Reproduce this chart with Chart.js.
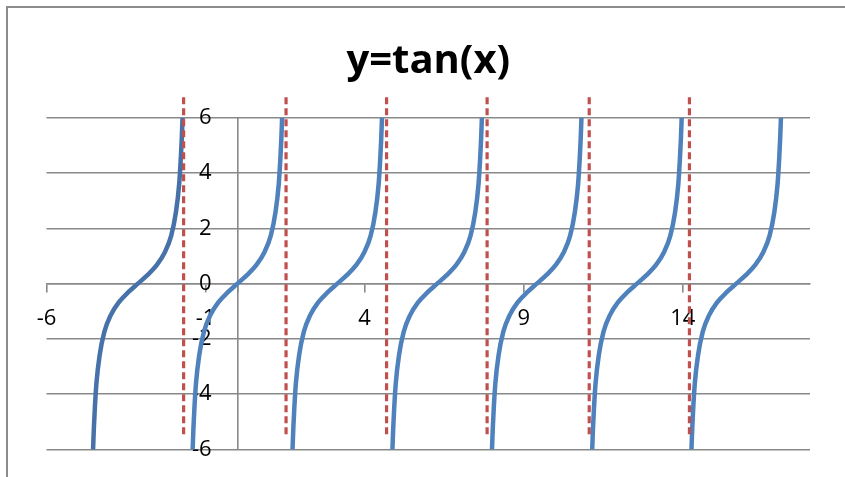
<!DOCTYPE html>
<html>
<head>
<meta charset="utf-8">
<script src="https://cdn.jsdelivr.net/npm/chart.js@4"></script>
<style>
  html, body { margin: 0; padding: 0; background: #fff; }
  #wrap { position: relative; width: 845px; height: 477px; }
  #frame { position: absolute; left: 6px; top: 6px; right: 0; bottom: 0; border-top: 2px solid #8c8c8c; border-left: 2px solid #8c8c8c; }
  canvas { position: absolute; left: 0; top: 0; }
</style>
</head>
<body>
<div id="wrap">
  <div id="frame"></div>
  <canvas id="tanChart" width="845" height="477"></canvas>
</div>
<script>
// date
const titlu = "y=tan(x)";
const xTicks = [-6, -1, 4, 9, 14];
const yTicks = [-6, -4, -2, 0, 2, 4, 6];

// centrele ramurilor (unde tan trece prin 0)
const centreRamuri = [-3.13, 0, 3.14, 6.28, 9.41, 12.56, 15.68];
// forma unei ramuri: distanta fata de centru si valoarea y
const ramuraDx = [-1.406, -1.38, -1.35, -1.3, -1.2, -1.05, -0.85, -0.6, -0.3, 0, 0.3, 0.6, 0.85, 1.05, 1.2, 1.3, 1.35, 1.38, 1.406];
const ramuraY = [-6, -5.2, -4.5, -3.6, -2.6, -1.74, -1.14, -0.68, -0.31, 0, 0.31, 0.68, 1.14, 1.74, 2.6, 3.6, 4.5, 5.2, 6];

// asimptotele (linii rosii punctate)
const asimptoteX = [-1.69, 1.53, 4.69, 7.85, 11.06, 14.21];
const asimptotaSus = 6.75;
const asimptotaJos = -5.6;

const datasets = [];

asimptoteX.forEach(a => {
  datasets.push({
    data: [{ x: a, y: asimptotaSus }, { x: a, y: asimptotaJos }],
    borderColor: "#C0504D",
    borderWidth: 3.2,
    borderDash: [7, 4],
    pointRadius: 0,
    showLine: true,
    clip: false,
    order: 0
  });
});

centreRamuri.forEach((c, i) => {
  datasets.push({
    data: ramuraDx.map((dx, k) => ({ x: c + dx, y: ramuraY[k] })),
    borderColor: i === 0 ? "#4671A9" : "#4F81BD",
    borderWidth: 4.5,
    pointRadius: 0,
    showLine: true,
    cubicInterpolationMode: "monotone",
    clip: false,
    order: 1
  });
});

const grid = "#898989";

new Chart(document.getElementById("tanChart"), {
  type: "scatter",
  data: { datasets },
  options: {
    responsive: false,
    animation: false,
    events: [],
    layout: { padding: { left: 46.5, right: 35, top: 0, bottom: 27.7 } },
    plugins: {
      legend: { display: false },
      tooltip: { enabled: false },
      title: {
        display: true,
        text: titlu,
        color: "#000",
        font: { family: "'Open Sans'", size: 40, weight: "bold" },
        padding: { top: 38, bottom: 32 }
      }
    },
    scales: {
      x: {
        type: "linear",
        min: -6,
        max: 18,
        position: { y: 0 },
        afterBuildTicks: axis => {
          axis.ticks = xTicks.concat([0]).map(v => ({ value: v }));
        },
        grid: {
          color: ctx => (ctx.tick && ctx.tick.value === 0 ? grid : "rgba(0,0,0,0)"),
          lineWidth: 1.6,
          tickColor: grid,
          tickLength: 8
        },
        border: { color: grid, width: 1.6 },
        ticks: {
          color: "#000",
          padding: 14,
          font: { family: "'Open Sans'", size: 22 },
          callback: v => (v === 0 ? "" : v)
        }
      },
      y: {
        type: "linear",
        min: -6,
        max: 6,
        position: { x: -0.81 },
        afterBuildTicks: axis => {
          axis.ticks = yTicks.map(v => ({ value: v }));
        },
        grid: { color: grid, lineWidth: 1.6, drawTicks: false },
        border: { display: false },
        ticks: {
          color: "#000",
          font: { family: "'Open Sans'", size: 22 }
        }
      }
    }
  }
});
</script>
</body>
</html>
